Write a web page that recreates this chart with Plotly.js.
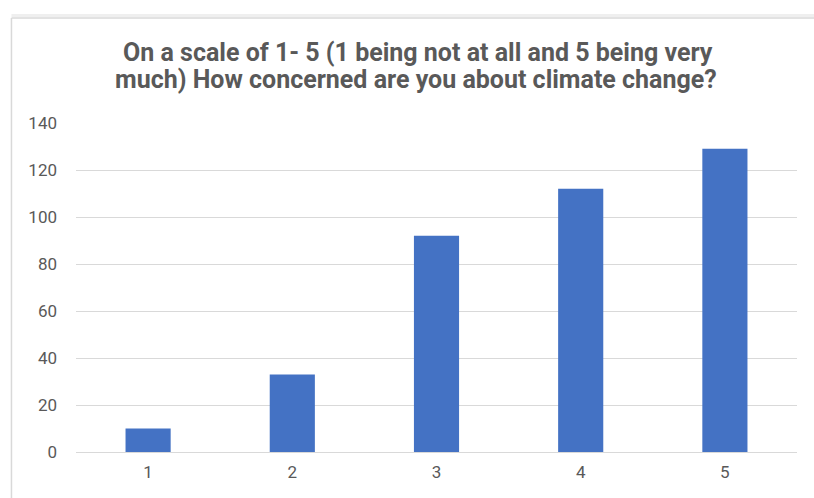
<!DOCTYPE html>
<html>
<head>
<meta charset="utf-8">
<script src="https://cdn.plot.ly/plotly-3.0.1.min.js"></script>
<style>
  html, body { margin: 0; padding: 0; background: #ffffff; }
  #chart { width: 814px; height: 498px; }
</style>
</head>
<body>
<div id="chart"></div>
<script>
const categories = ['1', '2', '3', '4', '5'];
const responses = [10, 33, 92, 112, 129];
const yTickValues = [0, 20, 40, 60, 80, 100, 120, 140];
const titleLines = [
  'On a scale of 1- 5 (1 being not at all and 5 being very',
  'much) How concerned are you about climate change?'
];

const trace = {
  type: 'bar',
  x: categories,
  y: responses,
  marker: { color: '#4472C4' },
  hoverinfo: 'x+y'
};

const titleFont = { family: 'Roboto, Arial, sans-serif', size: 25, color: '#595959', weight: 'bold' };
const tickFont = { family: 'Roboto, Arial, sans-serif', size: 17, color: '#595959' };

const layout = {
  width: 814,
  height: 498,
  margin: { l: 76, r: 17, t: 123, b: 46, pad: 0 },
  paper_bgcolor: '#ffffff',
  plot_bgcolor: '#ffffff',
  bargap: 0.687,
  showlegend: false,
  xaxis: {
    type: 'category',
    showgrid: false,
    zeroline: false,
    showline: false,
    ticks: '',
    tickfont: tickFont,
    ticklabelstandoff: 8
  },
  yaxis: {
    range: [0, 140],
    tickvals: yTickValues,
    ticktext: yTickValues.map(String),
    showgrid: true,
    gridcolor: '#d9d9d9',
    gridwidth: 1,
    zeroline: true,
    zerolinecolor: '#d9d9d9',
    zerolinewidth: 1,
    showline: false,
    ticks: '',
    tickfont: tickFont,
    ticklabelstandoff: 18
  },
  annotations: [
    { text: titleLines[0], xref: 'paper', yref: 'paper', x: 0.474, y: 1.2143,
      xanchor: 'center', yanchor: 'middle', showarrow: false, font: titleFont },
    { text: titleLines[1], xref: 'paper', yref: 'paper', x: 0.471, y: 1.1307,
      xanchor: 'center', yanchor: 'middle', showarrow: false, font: titleFont }
  ],
  shapes: [
    { type: 'line', xref: 'paper', yref: 'paper', x0: -0.0895, x1: 1.03, y0: 1.3267, y1: 1.3267,
      line: { color: '#efefef', width: 3 } },
    { type: 'line', xref: 'paper', yref: 'paper', x0: -0.0895, x1: 1.03, y0: 1.3192, y1: 1.3192,
      line: { color: '#d9d9d9', width: 1.5 } },
    { type: 'line', xref: 'paper', yref: 'paper', x0: -0.0895, x1: -0.0895, y0: 1.3192, y1: -0.2,
      line: { color: '#d9d9d9', width: 1.5 } }
  ]
};

Plotly.newPlot('chart', [trace], layout, { displayModeBar: false, staticPlot: true });
</script>
</body>
</html>
